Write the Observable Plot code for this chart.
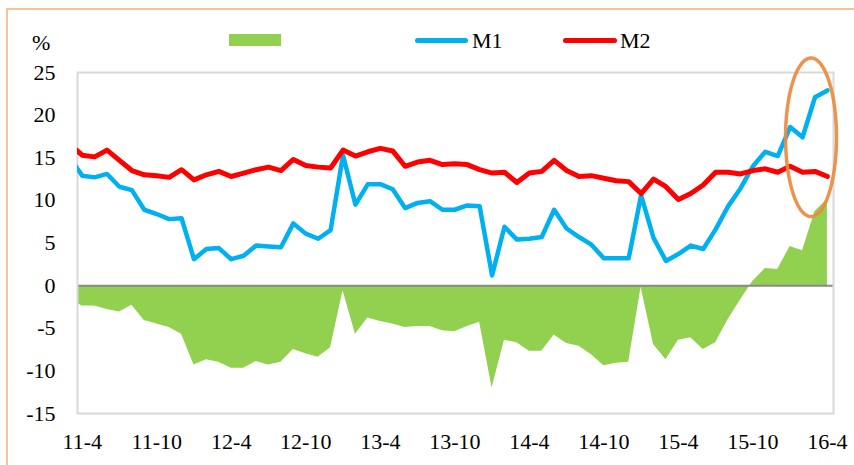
<!DOCTYPE html>
<html>
<head>
<meta charset="utf-8">
<script src="https://cdn.jsdelivr.net/npm/d3@7"></script>
<script src="https://cdn.jsdelivr.net/npm/@observablehq/plot@0.6"></script>
<style>
  html, body { margin: 0; padding: 0; background: #fff; }
  #wrap { position: relative; width: 854px; height: 465px; overflow: hidden; background: #fff;
          font-family: "Liberation Serif", "Times New Roman", serif; }
  #border { position: absolute; left: 6px; top: 7.5px; width: 900px; height: 520px;
            border-top: 2px solid #F7C39A; border-left: 2px solid #F7C39A; }
  #chart { position: absolute; left: 0; top: 0; }
  .lg { position: absolute; }
  .txt { position: absolute; font-size: 22px; line-height: 22px; color: #000; }
</style>
</head>
<body>
<div id="wrap">
  <div id="border"></div>
  <div id="chart"></div>
  <div class="txt" style="left:32px; top:32px;">%</div>
  <div class="lg" style="left:229px; top:34px; width:52px; height:12px; background:#92D050;"></div>
  <div class="lg" style="left:415px; top:37.5px; width:53px; height:5px; border-radius:3px; background:#00B0F0;"></div>
  <div class="txt" style="left:472px; top:30px;">M1</div>
  <div class="lg" style="left:563px; top:37.5px; width:54px; height:5px; border-radius:3px; background:#FF0000;"></div>
  <div class="txt" style="left:620px; top:30px;">M2</div>
</div>
<script>
// Months (the first one, 11-3, lies just left of the frame and is clipped)
const months = ["11-3","11-4","11-5","11-6","11-7","11-8","11-9","11-10","11-11","11-12",
  "12-1","12-2","12-3","12-4","12-5","12-6","12-7","12-8","12-9","12-10","12-11","12-12",
  "13-1","13-2","13-3","13-4","13-5","13-6","13-7","13-8","13-9","13-10","13-11","13-12",
  "14-1","14-2","14-3","14-4","14-5","14-6","14-7","14-8","14-9","14-10","14-11","14-12",
  "15-1","15-2","15-3","15-4","15-5","15-6","15-7","15-8","15-9","15-10","15-11","15-12",
  "16-1","16-2","16-3","16-4"];

const M1 = [15.0,12.9,12.7,13.1,11.6,11.2,8.9,8.4,7.8,7.9,
  3.1,4.3,4.4,3.1,3.5,4.7,4.6,4.5,7.3,6.1,5.5,6.5,
  15.3,9.5,11.9,11.9,11.3,9.1,9.7,9.9,8.9,8.9,9.4,9.3,
  1.2,6.9,5.4,5.5,5.7,8.9,6.7,5.7,4.8,3.2,3.2,3.2,
  10.6,5.6,2.9,3.7,4.7,4.3,6.6,9.3,11.4,14.0,15.7,15.2,
  18.6,17.4,22.1,22.9];

const M2 = [16.6,15.3,15.1,15.9,14.7,13.5,13.0,12.9,12.7,13.6,
  12.4,13.0,13.4,12.8,13.2,13.6,13.9,13.5,14.8,14.1,13.9,13.8,
  15.9,15.2,15.7,16.1,15.8,14.0,14.5,14.7,14.2,14.3,14.2,13.6,
  13.2,13.3,12.1,13.2,13.4,14.7,13.5,12.8,12.9,12.6,12.3,12.2,
  10.8,12.5,11.6,10.1,10.8,11.8,13.3,13.3,13.1,13.5,13.7,13.3,
  14.0,13.3,13.4,12.8];

// M1 - M2 gap (green area)
const GAP = [-1.6,-2.4,-2.4,-2.8,-3.1,-2.3,-4.1,-4.5,-4.9,-5.7,
  -9.3,-8.7,-9.0,-9.7,-9.7,-8.9,-9.3,-9.0,-7.5,-8.0,-8.4,-7.3,
  -0.6,-5.7,-3.8,-4.2,-4.5,-4.9,-4.8,-4.8,-5.3,-5.4,-4.8,-4.3,
  -12.0,-6.4,-6.7,-7.7,-7.7,-5.8,-6.8,-7.1,-8.1,-9.4,-9.1,-9.0,
  -0.2,-6.9,-8.7,-6.4,-6.1,-7.5,-6.7,-4.0,-1.7,0.5,2.0,1.9,
  4.6,4.1,8.7,10.1];

const xTickLabels = ["11-4","11-10","12-4","12-10","13-4","13-10","14-4","14-10","15-4","15-10","16-4"];
const yTicks = [-15,-10,-5,0,5,10,15,20,25];

// Annotation ellipse (center month, center value, half-width in months, half-height in %)
const ringCenterMonth = "16-2";
const ringOffset = 0.68;
const ringCenterValue = 17.4;
const ringRx = 2.05;
const ringRy = 9.3;

const rows = months.map((m, k) => ({i: k - 1, m, m1: M1[k], m2: M2[k], gap: GAP[k]}));
const idx = m => months.indexOf(m) - 1;
const xTicks = xTickLabels.map(idx);

const cx = idx(ringCenterMonth) + ringOffset;
const ring = d3.range(0, 121).map(t => {
  const a = (t / 120) * 2 * Math.PI;
  return {x: cx + ringRx * Math.cos(a), y: ringCenterValue + ringRy * Math.sin(a)};
});

const chart = Plot.plot({
  width: 854,
  height: 465,
  marginLeft: 77,
  marginRight: 21,
  marginTop: 72,
  marginBottom: 52,
  x: {type: "linear", domain: [-0.378, 60.49]},
  y: {domain: [-15, 25]},
  style: {fontFamily: "'Liberation Serif', 'Times New Roman', serif", fontSize: "22px", color: "#000", background: "transparent", overflow: "visible"},
  marks: [
    Plot.areaY(rows, {x: "i", y1: 0, y2: "gap", fill: "#92D050", clip: true}),
    Plot.ruleY([0], {stroke: "#898989", strokeWidth: 2}),
    Plot.frame({stroke: "#D9D9D9", strokeWidth: 2}),
    Plot.lineY(rows, {x: "i", y: "m1", stroke: "#00B0F0", strokeWidth: 4.5, clip: true}),
    Plot.lineY(rows, {x: "i", y: "m2", stroke: "#FF0000", strokeWidth: 5, clip: true}),
    Plot.line(ring, {x: "x", y: "y", stroke: "#EB8A3E", strokeWidth: 3.5, strokeOpacity: 0.92}),
    Plot.axisY({ticks: yTicks, tickSize: 0, tickPadding: 22, tickFormat: d => String(d), label: null, fill: "#000"}),
    Plot.axisX({ticks: xTicks, tickSize: 0, tickPadding: 20, tickFormat: i => months[i + 1], label: null, fill: "#000"})
  ]
});
document.getElementById("chart").appendChild(chart);
</script>
</body>
</html>
